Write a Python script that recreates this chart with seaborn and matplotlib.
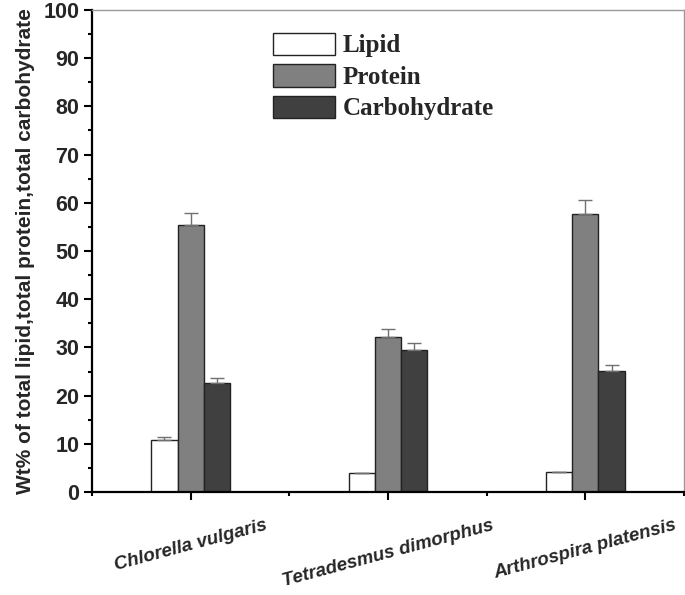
import matplotlib
matplotlib.use("Agg")
import matplotlib.pyplot as plt
import seaborn as sns
import pandas as pd
import numpy as np

species = ["Chlorella vulgaris", "Tetradesmus dimorphus", "Arthrospira platensis"]
components = ["Lipid", "Protein", "Carbohydrate"]
lipid = [10.8, 3.9, 4.1]
protein = [55.3, 32.1, 57.7]
carbohydrate = [22.7, 29.5, 25.1]
lipid_err = [0.6, 0.0, 0.0]
protein_err = [2.6, 1.7, 2.8]
carbohydrate_err = [1.0, 1.4, 1.2]

values = {"Lipid": lipid, "Protein": protein, "Carbohydrate": carbohydrate}
errors = {"Lipid": lipid_err, "Protein": protein_err, "Carbohydrate": carbohydrate_err}

rows = []
for comp in components:
    for sp, v in zip(species, values[comp]):
        rows.append({"Species": sp, "Component": comp, "Value": v})
df = pd.DataFrame(rows)

sns.set_style("ticks")
fig = plt.figure(figsize=(6.85, 5.95), dpi=100)
ax = fig.add_axes([0.1343, 0.1731, 0.8642, 0.8101])

palette = {"Lipid": "#ffffff", "Protein": "#808080", "Carbohydrate": "#404040"}
sns.barplot(data=df, x="Species", y="Value", hue="Component", order=species,
            hue_order=components, palette=palette, width=0.4, edgecolor="#222222",
            linewidth=1.0, errorbar=None, ax=ax, saturation=1)

for cont, comp in zip(ax.containers, components):
    xs = [p.get_x() + p.get_width() / 2 for p in cont.patches]
    hs = [p.get_height() for p in cont.patches]
    errs = errors[comp]
    ax.errorbar(xs, hs, yerr=[np.zeros(len(errs)), errs], fmt="none",
                ecolor="#707070", elinewidth=1.0, capsize=5, capthick=1.0, zorder=1)

ax.set_xlim(-0.5, 2.5)
ax.set_ylim(0, 100)
ax.set_yticks(np.arange(0, 101, 10))
ax.set_yticks(np.arange(5, 100, 10), minor=True)
ax.set_xticks([-0.5, 0.5, 1.5, 2.5], minor=True)

ax.tick_params(axis="both", which="major", direction="out", length=6, width=1.5, color="black")
ax.tick_params(axis="both", which="minor", direction="out", length=3, width=1.5, color="black")
ax.tick_params(axis="y", labelsize=15.5, pad=3)

for lbl in ax.get_yticklabels():
    lbl.set_fontfamily("Liberation Sans")
    lbl.set_fontweight("bold")

ax.set_xticks(range(len(species)))
ax.set_xticklabels(species, rotation=15, ha="center", fontsize=13.5,
                   fontstyle="italic", fontweight="semibold", fontfamily="Liberation Sans")
ax.tick_params(axis="x", pad=12)

ax.set_xlabel("")
ax.set_ylabel("Wt% of total lipid,total protein,total carbohydrate",
              fontsize=15, fontweight="bold", fontfamily="Liberation Sans", labelpad=6)

for side in ["left", "bottom"]:
    ax.spines[side].set_color("black")
    ax.spines[side].set_linewidth(1.6)
for side in ["top", "right"]:
    ax.spines[side].set_visible(True)
    ax.spines[side].set_color("#999999")
    ax.spines[side].set_linewidth(1.0)

handles, labels = ax.get_legend_handles_labels()
if ax.get_legend() is not None:
    ax.get_legend().remove()
fig.legend(handles, labels, loc="upper left", bbox_to_anchor=(0.380, 0.966),
           frameon=False, borderpad=0, handlelength=2.5, handleheight=1.0,
           labelspacing=0.27, handletextpad=0.3,
           prop={"family": "Liberation Serif", "weight": "bold", "size": 18})

fig.savefig("out.png", dpi=100)
